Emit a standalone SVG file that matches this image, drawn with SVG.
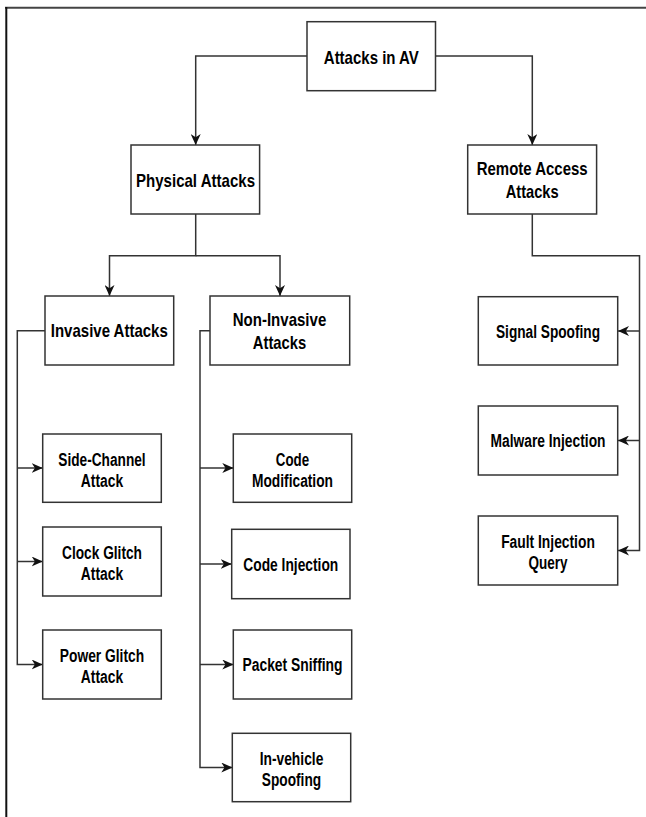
<svg xmlns="http://www.w3.org/2000/svg" width="646" height="817" viewBox="0 0 646 817">
<style>
.box{fill:#fff;stroke:#333;stroke-width:1.5}
.t{font-family:"Liberation Sans",Arial,sans-serif;font-weight:bold;font-size:18.5px;fill:#000;text-anchor:middle}
.s{font-size:17.5px}
.c{fill:none;stroke:#333;stroke-width:1.5}
</style>
<defs>
<marker id="ah" viewBox="0 0 11 10" refX="11" refY="5" markerWidth="11" markerHeight="10" markerUnits="userSpaceOnUse" orient="auto">
<path d="M0,0 L11,5 L0,10 L3.2,5 Z" fill="#111"/>
</marker>
</defs>
<rect width="646" height="817" fill="#fff"/>
<g id="frame">
<line x1="5" y1="7.7" x2="646" y2="7.7" stroke="#444" stroke-width="2"/>
<line x1="6.3" y1="7" x2="6.3" y2="817" stroke="#111" stroke-width="2"/>
</g>
<g id="connectors" class="c">
<path d="M307,56 H195.7 V145" marker-end="url(#ah)"/>
<path d="M435.5,56 H532.3 V145" marker-end="url(#ah)"/>
<path d="M195.7,214 V255.7 H109.5 V296" marker-end="url(#ah)"/>
<path d="M195.7,255.7 H280 V296" marker-end="url(#ah)"/>
<path d="M532.3,214 V255.7 H639.5 V550.5 H618" marker-end="url(#ah)"/>
<path d="M639.5,331 H618" marker-end="url(#ah)"/>
<path d="M639.5,440.5 H618" marker-end="url(#ah)"/>
<path d="M45,330.7 H17.3 V664.5 H42.7" marker-end="url(#ah)"/>
<path d="M17.3,468 H42.7" marker-end="url(#ah)"/>
<path d="M17.3,561.5 H42.7" marker-end="url(#ah)"/>
<path d="M210,330.7 H200 V767.5 H232.3" marker-end="url(#ah)"/>
<path d="M200,468 H233.3" marker-end="url(#ah)"/>
<path d="M200,564 H231.7" marker-end="url(#ah)"/>
<path d="M200,664.5 H233.3" marker-end="url(#ah)"/>
</g>
<g id="attacks-av">
<rect class="box" x="307" y="21.7" width="128.5" height="69"/>
<text class="t" x="371.3" y="63.7" textLength="95" lengthAdjust="spacingAndGlyphs">Attacks in AV</text>
</g>
<g id="physical">
<rect class="box" x="131" y="145" width="128.6" height="69"/>
<text class="t" x="195.5" y="186.5" textLength="119" lengthAdjust="spacingAndGlyphs">Physical Attacks</text>
</g>
<g id="remote">
<rect class="box" x="467.7" y="145" width="128.9" height="69"/>
<text class="t" x="532.2" y="175" textLength="111" lengthAdjust="spacingAndGlyphs">Remote Access</text>
<text class="t" x="532.2" y="198" textLength="53" lengthAdjust="spacingAndGlyphs">Attacks</text>
</g>
<g id="invasive">
<rect class="box" x="45" y="296" width="128.7" height="69"/>
<text class="t" x="109.3" y="337" textLength="117" lengthAdjust="spacingAndGlyphs">Invasive Attacks</text>
</g>
<g id="non-invasive">
<rect class="box" x="210" y="296" width="139.7" height="69"/>
<text class="t" x="279.5" y="325.5" textLength="93.5" lengthAdjust="spacingAndGlyphs">Non-Invasive</text>
<text class="t" x="279.5" y="348.5" textLength="53.3" lengthAdjust="spacingAndGlyphs">Attacks</text>
</g>
<g id="side-channel">
<rect class="box" x="42.7" y="434" width="118.6" height="68.3"/>
<text class="t s" x="102" y="465.5" textLength="87.3" lengthAdjust="spacingAndGlyphs">Side-Channel</text>
<text class="t s" x="102" y="486.5" textLength="42.3" lengthAdjust="spacingAndGlyphs">Attack</text>
</g>
<g id="clock-glitch">
<rect class="box" x="42.7" y="527" width="118.6" height="69"/>
<text class="t s" x="102" y="558.5" textLength="80" lengthAdjust="spacingAndGlyphs">Clock Glitch</text>
<text class="t s" x="102" y="579.5" textLength="42.3" lengthAdjust="spacingAndGlyphs">Attack</text>
</g>
<g id="power-glitch">
<rect class="box" x="42.7" y="630" width="118.6" height="69"/>
<text class="t s" x="102" y="661.5" textLength="84.3" lengthAdjust="spacingAndGlyphs">Power Glitch</text>
<text class="t s" x="102" y="682.5" textLength="42.3" lengthAdjust="spacingAndGlyphs">Attack</text>
</g>
<g id="code-modification">
<rect class="box" x="233.3" y="434" width="118.4" height="68.3"/>
<text class="t s" x="292.5" y="465.5" textLength="33.3" lengthAdjust="spacingAndGlyphs">Code</text>
<text class="t s" x="292.5" y="486.5" textLength="81" lengthAdjust="spacingAndGlyphs">Modification</text>
</g>
<g id="code-injection">
<rect class="box" x="231.7" y="529.3" width="118.3" height="69.4"/>
<text class="t s" x="290.8" y="570.5" textLength="95" lengthAdjust="spacingAndGlyphs">Code Injection</text>
</g>
<g id="packet-sniffing">
<rect class="box" x="233.3" y="630" width="118.4" height="69"/>
<text class="t s" x="292.5" y="671" textLength="100" lengthAdjust="spacingAndGlyphs">Packet Sniffing</text>
</g>
<g id="in-vehicle">
<rect class="box" x="232.3" y="733.3" width="118.4" height="68.4"/>
<text class="t s" x="291.5" y="765" textLength="63.7" lengthAdjust="spacingAndGlyphs">In-vehicle</text>
<text class="t s" x="291.5" y="786" textLength="59.3" lengthAdjust="spacingAndGlyphs">Spoofing</text>
</g>
<g id="signal-spoofing">
<rect class="box" x="478.3" y="296.7" width="139.4" height="68.3"/>
<text class="t s" x="548" y="337.5" textLength="104" lengthAdjust="spacingAndGlyphs">Signal Spoofing</text>
</g>
<g id="malware-injection">
<rect class="box" x="478.3" y="406" width="139.4" height="69"/>
<text class="t s" x="548" y="447" textLength="115" lengthAdjust="spacingAndGlyphs">Malware Injection</text>
</g>
<g id="fault-injection">
<rect class="box" x="478.3" y="516" width="139.4" height="69"/>
<text class="t s" x="548" y="547.5" textLength="93.7" lengthAdjust="spacingAndGlyphs">Fault Injection</text>
<text class="t s" x="548" y="568.5" textLength="39" lengthAdjust="spacingAndGlyphs">Query</text>
</g>
</svg>
